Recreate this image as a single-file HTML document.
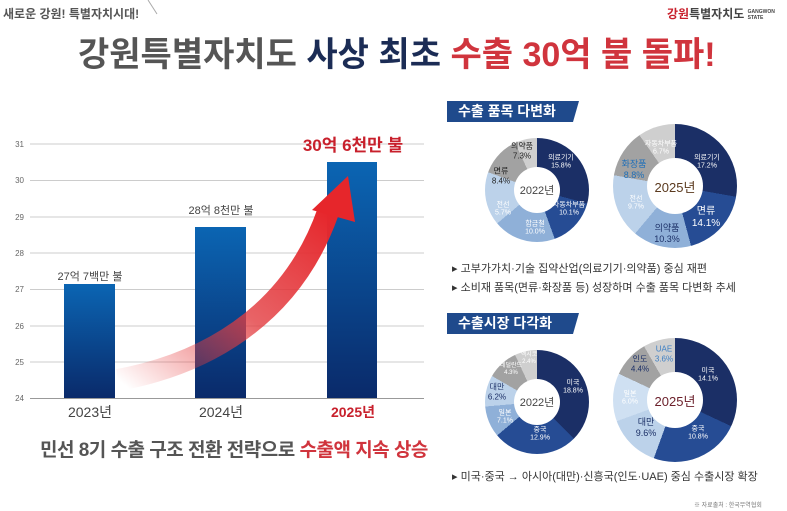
<!DOCTYPE html>
<html><head><meta charset="utf-8">
<style>
*{margin:0;padding:0;box-sizing:border-box}
body{width:787px;height:511px;background:#fff;position:relative;overflow:hidden;font-family:"Liberation Sans","Noto Sans CJK KR",sans-serif}
.a{position:absolute;white-space:nowrap}
.donut{position:absolute;border-radius:50%}
.hole{position:absolute;border-radius:50%;background:#fff;display:flex;align-items:center;justify-content:center;color:#444}
.lbl{position:absolute;font-size:7px;text-align:center;line-height:1.2;color:#fff;transform:translate(-50%,-50%)}
.band{position:absolute;height:21px;background:#1f4a8c;color:#fff;font-weight:bold;font-size:14px;padding-left:11px;line-height:21px}
.band:after{content:"";position:absolute;right:-6px;top:0;border-left:6px solid #1f4a8c;border-bottom:21px solid transparent}
</style></head><body>
<div class="a" style="left:3px;top:5px;font-size:12px;font-weight:bold;color:#555">새로운 강원! 특별자치시대!</div>
<svg class="a" style="left:0;top:0" width="787" height="30"><line x1="148" y1="0" x2="157" y2="14" stroke="#aaa"/></svg>
<div class="a" style="left:667px;top:5px;font-size:12px;font-weight:bold;color:#444"><span style="color:#c8202c">강원</span>특별자치도 <span style="font-size:5px;display:inline-block;line-height:6px;vertical-align:middle">GANGWON<br>STATE</span></div>
<div class="a" style="left:78px;top:27px;font-size:34px;font-weight:bold;color:#555;letter-spacing:0px">강원특별자치도 <span style="color:#1b2c55">사상 최초</span> <span style="color:#d0343d">수출 30억 불 돌파!</span></div>

<svg class="a" style="left:0;top:130px" width="430" height="290">
<defs>
<linearGradient id="bg" x1="0" y1="0" x2="0" y2="1"><stop offset="0" stop-color="#0b65b3"/><stop offset="1" stop-color="#0a2a6a"/></linearGradient>
<linearGradient id="rg" x1="0" y1="1" x2="1" y2="0"><stop offset="0" stop-color="#e83a3a" stop-opacity="0"/><stop offset="0.5" stop-color="#e23c40" stop-opacity="0.8"/><stop offset="1" stop-color="#e6262b"/></linearGradient>
</defs>
<g stroke="#ccc" stroke-width="1">
<line x1="30" y1="14" x2="424" y2="14"/><line x1="30" y1="50.5" x2="424" y2="50.5"/><line x1="30" y1="87" x2="424" y2="87"/><line x1="30" y1="123" x2="424" y2="123"/><line x1="30" y1="159.5" x2="424" y2="159.5"/><line x1="30" y1="196" x2="424" y2="196"/><line x1="30" y1="232" x2="424" y2="232"/>
</g>
<line x1="30" y1="268.5" x2="424" y2="268.5" stroke="#999"/>
<g font-size="8" fill="#666" text-anchor="end">
<text x="24" y="17">31</text><text x="24" y="53">30</text><text x="24" y="90">29</text><text x="24" y="126">28</text><text x="24" y="162">27</text><text x="24" y="199">26</text><text x="24" y="235">25</text><text x="24" y="271">24</text>
</g>
<rect x="64" y="154" width="51" height="114" fill="url(#bg)"/>
<rect x="195" y="97" width="51" height="171" fill="url(#bg)"/>
<rect x="327" y="32" width="50" height="236" fill="url(#bg)"/>
<path d="M118,250 C200,235 290,190 328,82" stroke="url(#rg)" stroke-width="22" fill="none"/>
<polygon points="312,80 348,46 355,92" fill="#e6262b"/>
<g font-size="11" fill="#444" text-anchor="middle">
<text x="90" y="150">27억 7백만 불</text><text x="221" y="84">28억 8천만 불</text>
</g>
<g font-size="14" text-anchor="middle">
<text x="90" y="287" fill="#444">2023년</text><text x="221" y="287" fill="#444">2024년</text><text x="353" y="287" fill="#c8202c" font-weight="bold">2025년</text>
<text x="353" y="21" fill="#c8202c" font-weight="bold" font-size="17">30억 6천만 불</text>
</g>
</svg>
<div class="a" style="left:40px;top:435px;font-size:19px;font-weight:bold;color:#555;letter-spacing:-0.5px">민선 8기 수출 구조 전환 전략으로 <span style="color:#d0343d">수출액 지속 상승</span></div>

<div class="band" style="left:447px;top:101px;width:126px">수출 품목 다변화</div>
<div class="band" style="left:447px;top:313px;width:126px">수출시장 다각화</div>

<div class="donut" style="left:485px;top:138px;width:104px;height:104px;background:conic-gradient(#1b2f66 0 105deg,#264c94 105deg 160deg,#8fb0d8 160deg 230deg,#bcd2ea 230deg 290deg,#a2a2a2 290deg 335deg,#cfcfcf 335deg)"></div>
<div class="hole" style="left:514px;top:167px;width:46px;height:46px;font-size:11px">2022년</div>
<div class="lbl" style="left:561px;top:163px">의료기기<br>15.8%</div>
<div class="lbl" style="left:569px;top:210px">자동차부품<br>10.1%</div>
<div class="lbl" style="left:535px;top:229px">합금철<br>10.0%</div>
<div class="lbl" style="left:503px;top:210px">전선<br>5.7%</div>
<div class="lbl" style="left:501px;top:176px;color:#222;font-size:8px">면류<br>8.4%</div>
<div class="lbl" style="left:522px;top:151px;color:#222;font-size:8px">의약품<br>7.3%</div>

<div class="donut" style="left:613px;top:124px;width:124px;height:124px;background:conic-gradient(#1b2f66 0 100deg,#264c94 100deg 165deg,#8fb0d8 165deg 220deg,#bcd2ea 220deg 280deg,#a2a2a2 280deg 325deg,#cfcfcf 325deg)"></div>
<div class="hole" style="left:647px;top:158px;width:56px;height:56px;font-size:13px;color:#5b3a1f">2025년</div>
<div class="lbl" style="left:707px;top:163px">의료기기<br>17.2%</div>
<div class="lbl" style="left:706px;top:218px;font-size:10px">면류<br>14.1%</div>
<div class="lbl" style="left:667px;top:234px;color:#1b2f66;font-size:9px">의약품<br>10.3%</div>
<div class="lbl" style="left:636px;top:204px">전선<br>9.7%</div>
<div class="lbl" style="left:634px;top:170px;color:#1d6eb8;font-size:9px">화장품<br>8.8%</div>
<div class="lbl" style="left:661px;top:149px">자동차부품<br>6.7%</div>

<div class="a" style="left:452px;top:260px;font-size:11px;color:#333;line-height:19px">▸ 고부가가치·기술 집약산업(의료기기·의약품) 중심 재편<br>▸ 소비재 품목(면류·화장품 등) 성장하며 수출 품목 다변화 추세</div>

<div class="donut" style="left:485px;top:350px;width:104px;height:104px;background:conic-gradient(#1b2f66 0 135deg,#264c94 135deg 230deg,#8fb0d8 230deg 265deg,#bcd2ea 265deg 300deg,#a2a2a2 300deg 335deg,#cfcfcf 335deg)"></div>
<div class="hole" style="left:514px;top:379px;width:46px;height:46px;font-size:11px">2022년</div>
<div class="lbl" style="left:573px;top:388px">미국<br>18.8%</div>
<div class="lbl" style="left:540px;top:435px">중국<br>12.9%</div>
<div class="lbl" style="left:505px;top:418px">일본<br>7.1%</div>
<div class="lbl" style="left:497px;top:392px;color:#1b2f66;font-size:8px">대만<br>6.2%</div>
<div class="lbl" style="left:511px;top:370px;font-size:6px">네덜란드<br>4.3%</div>
<div class="lbl" style="left:529px;top:359px;font-size:6px">멕시코<br>2.4%</div>

<div class="donut" style="left:613px;top:338px;width:124px;height:124px;background:conic-gradient(#1b2f66 0 115deg,#264c94 115deg 200deg,#bcd2ea 200deg 250deg,#cfe0f2 250deg 295deg,#a2a2a2 295deg 330deg,#cfcfcf 330deg)"></div>
<div class="hole" style="left:647px;top:372px;width:56px;height:56px;font-size:13px;color:#6b1f2a">2025년</div>
<div class="lbl" style="left:708px;top:376px">미국<br>14.1%</div>
<div class="lbl" style="left:698px;top:434px">중국<br>10.8%</div>
<div class="lbl" style="left:646px;top:428px;color:#1b2f66;font-size:9px">대만<br>9.6%</div>
<div class="lbl" style="left:630px;top:399px">일본<br>6.0%</div>
<div class="lbl" style="left:640px;top:364px;color:#1b2f66;font-size:8px">인도<br>4.4%</div>
<div class="lbl" style="left:664px;top:354px;color:#3d7fc4;font-size:8px">UAE<br>3.6%</div>

<div class="a" style="left:452px;top:468px;font-size:11px;color:#333">▸ 미국·중국 → 아시아(대만)·신흥국(인도·UAE) 중심 수출시장 확장</div>
<div class="a" style="left:694px;top:500px;font-size:6px;color:#777">※ 자료출처 : 한국무역협회</div>
</body></html>
